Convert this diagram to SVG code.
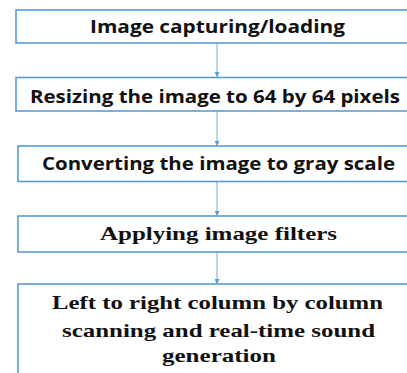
<svg xmlns="http://www.w3.org/2000/svg" width="407" height="373" viewBox="0 0 407 373">
<style>
.box{fill:#fff;stroke:#5B9BD5;stroke-width:1.6}
.s{font-family:"Open Sans","Liberation Sans",sans-serif;font-weight:bold;font-size:18.5px;fill:#111;text-anchor:middle}
.r{font-family:"Liberation Serif","Times New Roman",serif;font-weight:bold;font-size:19.5px;fill:#111;text-anchor:middle}
.c{stroke:#8FB8E2;stroke-width:1.2;fill:none}
</style>
<defs>
<marker id="ah" viewBox="0 0 10 10" refX="10" refY="5" markerWidth="5" markerHeight="5" markerUnits="userSpaceOnUse" orient="auto">
<path d="M0,0 L10,5 L0,10 Z" fill="#5B9BD5"/>
</marker>
</defs>
<g id="connectors">
<line class="c" x1="217" y1="43" x2="217" y2="77" marker-end="url(#ah)"/>
<line class="c" x1="217" y1="111" x2="217" y2="146" marker-end="url(#ah)"/>
<line class="c" x1="217" y1="182" x2="217" y2="216" marker-end="url(#ah)"/>
<line class="c" x1="217" y1="252" x2="217" y2="284" marker-end="url(#ah)"/>
</g>
<g id="n1"><rect class="box" x="16" y="10" width="403" height="33"/>
<text class="s" x="217.5" y="33" textLength="255" lengthAdjust="spacingAndGlyphs">Image capturing/loading</text></g>
<g id="n2"><rect class="box" x="16" y="77.5" width="403" height="33.5"/>
<text class="s" x="215" y="103" textLength="370" lengthAdjust="spacingAndGlyphs">Resizing the image to 64 by 64 pixels</text></g>
<g id="n3"><rect class="box" x="18" y="146" width="401" height="35.5"/>
<text class="s" x="218.5" y="169.5" textLength="353" lengthAdjust="spacingAndGlyphs">Converting the image to gray scale</text></g>
<g id="n4"><rect class="box" x="18" y="216" width="401" height="36"/>
<text class="r" x="218.5" y="240" textLength="237" lengthAdjust="spacingAndGlyphs">Applying image filters</text></g>
<g id="n5"><rect class="box" x="18" y="284" width="401" height="100"/>
<text class="r" x="217.5" y="308.5" textLength="331" lengthAdjust="spacingAndGlyphs">Left to right column by column</text>
<text class="r" x="218.5" y="336.5" textLength="313" lengthAdjust="spacingAndGlyphs">scanning and real-time sound</text>
<text class="r" x="219" y="361.5" textLength="114" lengthAdjust="spacingAndGlyphs">generation</text></g>
</svg>
